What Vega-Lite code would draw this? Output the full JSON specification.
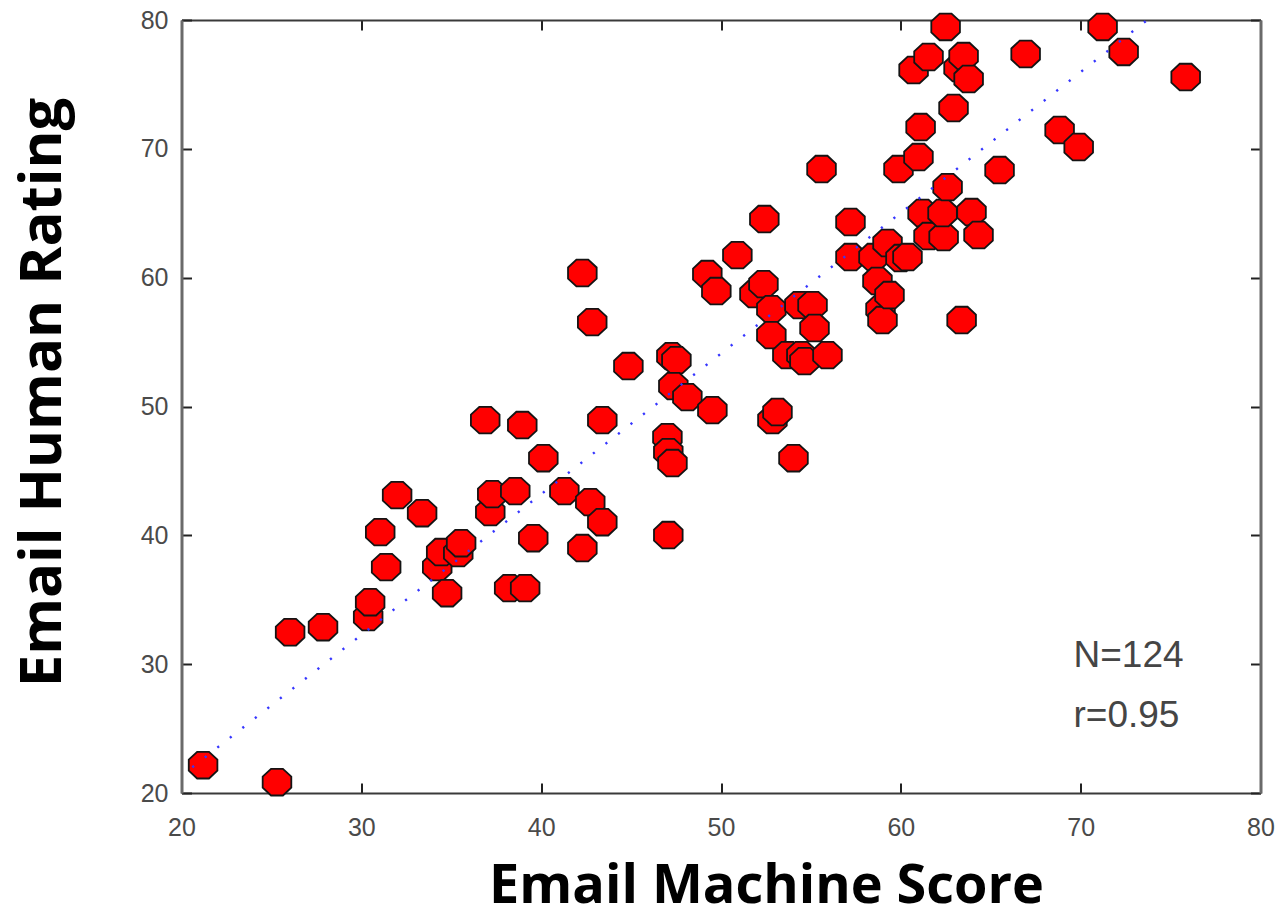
{
  "$schema": "https://vega.github.io/schema/vega-lite/v6.json",
  "autosize": {"type": "none"},
  "width": 1079,
  "height": 773,
  "padding": {"left": 181.5, "top": 20, "right": 21.5, "bottom": 124},
  "background": "white",
  "config": {"view": {"stroke": null}},
  "datasets": {
    "points": [
      {"machine": 21.20, "human": 22.16}, {"machine": 25.31, "human": 20.84}, {"machine": 26.04, "human": 32.48},
      {"machine": 27.87, "human": 32.87}, {"machine": 30.38, "human": 33.65}, {"machine": 30.49, "human": 34.81},
      {"machine": 31.05, "human": 40.25}, {"machine": 31.38, "human": 37.53}, {"machine": 31.99, "human": 43.12},
      {"machine": 33.38, "human": 41.72}, {"machine": 34.22, "human": 37.53}, {"machine": 34.44, "human": 38.70},
      {"machine": 34.77, "human": 35.51}, {"machine": 35.39, "human": 38.62}, {"machine": 35.55, "human": 39.39},
      {"machine": 36.89, "human": 48.94}, {"machine": 37.17, "human": 41.80}, {"machine": 37.28, "human": 43.20},
      {"machine": 38.22, "human": 35.90}, {"machine": 38.56, "human": 43.43}, {"machine": 38.95, "human": 48.56},
      {"machine": 39.11, "human": 35.90}, {"machine": 39.56, "human": 39.78}, {"machine": 40.12, "human": 45.99},
      {"machine": 41.29, "human": 43.43}, {"machine": 42.29, "human": 60.36}, {"machine": 42.29, "human": 39.01},
      {"machine": 42.73, "human": 42.58}, {"machine": 42.84, "human": 56.55}, {"machine": 43.40, "human": 41.02},
      {"machine": 43.40, "human": 48.94}, {"machine": 44.85, "human": 53.14}, {"machine": 47.02, "human": 47.62},
      {"machine": 47.07, "human": 46.46}, {"machine": 47.07, "human": 40.02}, {"machine": 47.30, "human": 45.61},
      {"machine": 47.24, "human": 53.91}, {"machine": 47.52, "human": 53.60}, {"machine": 47.35, "human": 51.58},
      {"machine": 48.13, "human": 50.73}, {"machine": 49.52, "human": 49.72}, {"machine": 49.24, "human": 60.28},
      {"machine": 49.74, "human": 58.96}, {"machine": 50.91, "human": 61.75}, {"machine": 51.86, "human": 58.73},
      {"machine": 52.36, "human": 59.50}, {"machine": 52.41, "human": 64.55}, {"machine": 52.80, "human": 57.56},
      {"machine": 52.86, "human": 48.94}, {"machine": 53.14, "human": 49.57}, {"machine": 52.80, "human": 55.54},
      {"machine": 53.69, "human": 53.99}, {"machine": 54.03, "human": 45.99}, {"machine": 54.36, "human": 57.87},
      {"machine": 54.47, "human": 53.99}, {"machine": 54.64, "human": 53.52}, {"machine": 55.09, "human": 57.87},
      {"machine": 55.20, "human": 56.09}, {"machine": 55.59, "human": 68.43}, {"machine": 55.92, "human": 53.99},
      {"machine": 57.20, "human": 64.32}, {"machine": 57.20, "human": 61.60}, {"machine": 58.48, "human": 61.60},
      {"machine": 58.70, "human": 59.74}, {"machine": 58.87, "human": 57.56}, {"machine": 58.98, "human": 56.71},
      {"machine": 59.26, "human": 62.69}, {"machine": 59.37, "human": 58.65}, {"machine": 59.87, "human": 68.43},
      {"machine": 59.98, "human": 61.52}, {"machine": 60.37, "human": 61.60}, {"machine": 60.71, "human": 76.12},
      {"machine": 60.98, "human": 69.36}, {"machine": 61.10, "human": 71.69}, {"machine": 61.21, "human": 65.02},
      {"machine": 61.54, "human": 63.23}, {"machine": 61.54, "human": 77.13}, {"machine": 62.38, "human": 63.15},
      {"machine": 62.32, "human": 65.02}, {"machine": 62.49, "human": 79.46}, {"machine": 62.60, "human": 67.03},
      {"machine": 62.93, "human": 73.17}, {"machine": 63.21, "human": 76.27}, {"machine": 63.49, "human": 77.20},
      {"machine": 63.77, "human": 75.42}, {"machine": 63.38, "human": 56.71}, {"machine": 63.93, "human": 65.09},
      {"machine": 64.32, "human": 63.31}, {"machine": 65.49, "human": 68.35}, {"machine": 66.94, "human": 77.36},
      {"machine": 68.83, "human": 71.46}, {"machine": 69.89, "human": 70.14}, {"machine": 71.22, "human": 79.46},
      {"machine": 72.39, "human": 77.52}, {"machine": 75.84, "human": 75.57}
    ],
    "fit": [
      {"machine": 20.6, "human": 22.0},
      {"machine": 73.7, "human": 80.0}
    ],
    "stats": [
      {"machine": 69.6, "human": 30.66, "label": "N=124"},
      {"machine": 69.6, "human": 25.98, "label": "r=0.95"}
    ]
  },
  "resolve": {"axis": {"x": "independent", "y": "independent"}},
  "layer": [
    {
      "data": {"name": "points"},
      "mark": {
        "type": "point",
        "shape": "M -0.414,-0.93 L 0.414,-0.93 L 1,-0.385 L 1,0.385 L 0.414,0.93 L -0.414,0.93 L -1,0.385 L -1,-0.385 Z",
        "filled": true,
        "fill": "#ff0000",
        "fillOpacity": 1,
        "stroke": "#141414",
        "strokeWidth": 1.8,
        "strokeOpacity": 1,
        "opacity": 1,
        "size": 820
      },
      "encoding": {
        "x": {
          "field": "machine", "type": "quantitative",
          "scale": {"domain": [20, 80], "nice": false, "zero": false},
          "axis": {
            "orient": "bottom",
            "values": [20, 30, 40, 50, 60, 70, 80],
            "grid": false,
            "domainColor": "#3a3a3a", "domainWidth": 2,
            "ticks": true, "tickSize": -10, "tickColor": "#222222", "tickWidth": 2,
            "labelFont": "Liberation Sans", "labelFontSize": 25, "labelColor": "#4a4a4a",
            "labelPadding": 32, "labelFlush": false, "labelBaseline": "top",
            "title": "Email Machine Score",
            "titleFont": "Open Sans", "titleFontWeight": "bold", "titleFontSize": 54, "titleColor": "#000000",
            "titleX": 584.5, "titleY": 109, "titleBaseline": "alphabetic", "titleAlign": "center", "titleAnchor": null
          }
        },
        "y": {
          "field": "human", "type": "quantitative",
          "scale": {"domain": [20, 80], "nice": false, "zero": false},
          "axis": {
            "orient": "left",
            "values": [20, 30, 40, 50, 60, 70, 80],
            "grid": false,
            "domainColor": "#6a6a6a", "domainWidth": 3,
            "ticks": true, "tickSize": -10, "tickColor": "#222222", "tickWidth": 2,
            "labelFont": "Liberation Sans", "labelFontSize": 25, "labelColor": "#4a4a4a",
            "labelPadding": 23.5, "labelFlush": false,
            "title": "Email Human Rating",
            "titleFont": "Open Sans", "titleFontWeight": "bold", "titleFontSize": 58, "titleColor": "#000000",
            "titleX": -121.5, "titleY": 372, "titleBaseline": "alphabetic", "titleAlign": "center", "titleAngle": -90, "titleAnchor": null
          }
        }
      }
    },
    {
      "data": {"name": "fit"},
      "mark": {"type": "line", "color": "#3636ff", "strokeWidth": 2.4, "strokeDash": [2.2, 13.7], "strokeCap": "butt"},
      "encoding": {
        "x": {
          "field": "machine", "type": "quantitative",
          "scale": {"domain": [20, 80], "nice": false, "zero": false},
          "axis": {
            "orient": "top",
            "values": [20, 30, 40, 50, 60, 70, 80],
            "grid": false, "labels": false, "title": null,
            "domainColor": "#3a3a3a", "domainWidth": 2,
            "ticks": true, "tickSize": -10, "tickColor": "#222222", "tickWidth": 2
          }
        },
        "y": {
          "field": "human", "type": "quantitative",
          "scale": {"domain": [20, 80], "nice": false, "zero": false},
          "axis": {
            "orient": "right",
            "values": [20, 30, 40, 50, 60, 70, 80],
            "grid": false, "labels": false, "title": null,
            "domainColor": "#6a6a6a", "domainWidth": 3,
            "ticks": true, "tickSize": -10, "tickColor": "#222222", "tickWidth": 2
          }
        }
      }
    },
    {
      "data": {"name": "stats"},
      "mark": {"type": "text", "align": "left", "baseline": "middle", "font": "Liberation Sans", "fontSize": 37, "color": "#454545"},
      "encoding": {
        "x": {"field": "machine", "type": "quantitative", "scale": {"domain": [20, 80], "nice": false, "zero": false}, "axis": null},
        "y": {"field": "human", "type": "quantitative", "scale": {"domain": [20, 80], "nice": false, "zero": false}, "axis": null},
        "text": {"field": "label"}
      }
    }
  ]
}
